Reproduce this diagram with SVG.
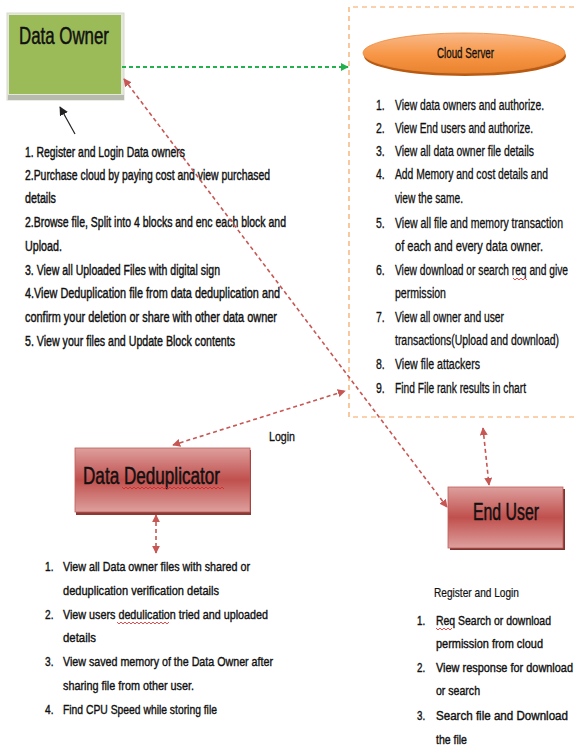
<svg xmlns="http://www.w3.org/2000/svg" width="574" height="747" viewBox="0 0 574 747">
<style>
.t{font-family:"Liberation Sans",Arial,sans-serif;fill:#111;stroke:#111;stroke-width:0.3;}
.l{font-size:15.5px;stroke-width:0.45;}
.c{font-size:14px;}
.d{font-size:13.5px;stroke-width:0.4;}
.e{font-size:13px;stroke-width:0.4;}
.h{font-size:23px;stroke-width:0.5;}
.red{fill:none;stroke:#C65754;stroke-width:1.6;stroke-dasharray:4 3;}
.sq{fill:none;stroke:#E02020;stroke-width:0.8;}
</style>
<defs>
<marker id="ar" viewBox="0 0 10 10" refX="9" refY="5" markerWidth="8" markerHeight="8" markerUnits="userSpaceOnUse" orient="auto-start-reverse"><path d="M0,0 L10,5 L0,10 z" fill="#C65754"/></marker>
<marker id="ag" viewBox="0 0 10 10" refX="9" refY="5" markerWidth="8" markerHeight="8" markerUnits="userSpaceOnUse" orient="auto"><path d="M0,0 L10,5 L0,10 z" fill="#22B14C"/></marker>
<marker id="ab" viewBox="0 0 10 10" refX="9" refY="5" markerWidth="9" markerHeight="9" markerUnits="userSpaceOnUse" orient="auto"><path d="M0,0 L10,5 L0,10 z" fill="#222"/></marker>
<linearGradient id="rg" x1="0" y1="0" x2="0" y2="1">
<stop offset="0" stop-color="#DDA09E"/><stop offset="0.5" stop-color="#C0504D"/><stop offset="1" stop-color="#DDA09E"/>
</linearGradient>
<linearGradient id="og" x1="0" y1="0" x2="0" y2="1">
<stop offset="0" stop-color="#F9B98A"/><stop offset="0.55" stop-color="#F79646"/><stop offset="1" stop-color="#E9832F"/>
</linearGradient>
</defs>

<g id="cloud-server">
<path d="M574,7 H349 V417 H574" fill="none" stroke="#F7A35C" stroke-width="1.2" stroke-dasharray="5 4"/>
<ellipse cx="465" cy="56" rx="101" ry="20" fill="#B85A12"/>
<ellipse cx="464" cy="53" rx="101" ry="20" fill="url(#og)" stroke="#E98A3C" stroke-width="0.8"/>
<text class="t" transform="translate(437,0) scale(0.75,1)" x="0" y="58" font-size="14" stroke-width="0.2" textLength="76" lengthAdjust="spacingAndGlyphs">Cloud Server</text>
<g class="t c" transform="translate(376,0) scale(0.75,1)">
<text x="0" y="110">1.</text><text x="25.33" y="110" textLength="198.7" lengthAdjust="spacingAndGlyphs">View data owners and authorize.</text>
<text x="0" y="133">2.</text><text x="25.33" y="133" textLength="184" lengthAdjust="spacingAndGlyphs">View End users and authorize.</text>
<text x="0" y="156">3.</text><text x="25.33" y="156" textLength="185.3" lengthAdjust="spacingAndGlyphs">View all data owner file details</text>
<text x="0" y="179">4.</text><text x="25.33" y="179" textLength="204" lengthAdjust="spacingAndGlyphs">Add Memory and cost details and</text>
<text x="25.33" y="203" textLength="90.7" lengthAdjust="spacingAndGlyphs">view the same.</text>
<text x="0" y="228">5.</text><text x="25.33" y="228" textLength="224" lengthAdjust="spacingAndGlyphs">View all file and memory transaction</text>
<text x="25.33" y="251" textLength="197.3" lengthAdjust="spacingAndGlyphs">of each and every data owner.</text>
<text x="0" y="275">6.</text><text x="25.33" y="275" textLength="230.7" lengthAdjust="spacingAndGlyphs">View download or search req and give</text>
<text x="25.33" y="298" textLength="68" lengthAdjust="spacingAndGlyphs">permission</text>
<text x="0" y="322">7.</text><text x="25.33" y="322" textLength="145.3" lengthAdjust="spacingAndGlyphs">View all owner and user</text>
<text x="25.33" y="345" textLength="218.7" lengthAdjust="spacingAndGlyphs">transactions(Upload and download)</text>
<text x="0" y="369">8.</text><text x="25.33" y="369" textLength="113.3" lengthAdjust="spacingAndGlyphs">View file attackers</text>
<text x="0" y="393">9.</text><text x="25.33" y="393" textLength="174.7" lengthAdjust="spacingAndGlyphs">Find File rank results in chart</text>
</g>
<path class="sq" d="M513,278 l2,2 l2,-2 l2,2 l2,-2 l2,2 l2,-2 l2,2"/>
</g>

<g id="data-owner">
<rect x="7" y="13" width="117" height="87" fill="#E4E8DC" stroke="#D5D9CC" stroke-width="1"/>
<rect x="8" y="95" width="116" height="5" fill="#B7BBAE"/>
<rect x="9" y="15" width="112" height="79" fill="#9BBB59"/>
<text class="t h" transform="translate(19,0) scale(0.75,1)" x="0" y="44" textLength="120" lengthAdjust="spacingAndGlyphs">Data Owner</text>
<g class="t l" transform="translate(25,0) scale(0.75,1)">
<text x="0" y="157" textLength="213.3" lengthAdjust="spacingAndGlyphs">1. Register and Login Data owners</text>
<text x="0" y="180" textLength="326.7" lengthAdjust="spacingAndGlyphs">2.Purchase cloud by paying cost and view purchased</text>
<text x="0" y="203" textLength="41.3" lengthAdjust="spacingAndGlyphs">details</text>
<text x="0" y="227" textLength="348" lengthAdjust="spacingAndGlyphs">2.Browse file, Split into 4 blocks and enc each block and</text>
<text x="0" y="251" textLength="49.3" lengthAdjust="spacingAndGlyphs">Upload.</text>
<text x="0" y="275" textLength="260" lengthAdjust="spacingAndGlyphs">3. View all Uploaded Files with digital sign</text>
<text x="0" y="298" textLength="340" lengthAdjust="spacingAndGlyphs">4.View Deduplication file from data deduplication and</text>
<text x="0" y="322" textLength="336" lengthAdjust="spacingAndGlyphs">confirm your deletion or share with other data owner</text>
<text x="0" y="346" textLength="280" lengthAdjust="spacingAndGlyphs">5. View your files and Update Block contents</text>
</g>
</g>

<g id="data-deduplicator">
<rect x="76" y="450" width="175" height="65" fill="#8C3835"/>
<rect x="75" y="448" width="175" height="64" fill="url(#rg)" stroke="#BE5E5B" stroke-width="0.8"/>
<text class="t h" transform="translate(83,0) scale(0.75,1)" x="0" y="484" textLength="182.7" lengthAdjust="spacingAndGlyphs">Data Deduplicator</text>
<path class="sq" d="M122,487 l2,2 l2,-2 l2,2 l2,-2 l2,2 l2,-2 l2,2 l2,-2 l2,2 l2,-2 l2,2 l2,-2 l2,2 l2,-2 l2,2 l2,-2 l2,2 l2,-2 l2,2 l2,-2 l2,2 l2,-2 l2,2 l2,-2 l2,2 l2,-2 l2,2 l2,-2 l2,2 l2,-2 l2,2 l2,-2 l2,2 l2,-2 l2,2 l2,-2 l2,2 l2,-2 l2,2 l2,-2 l2,2 l2,-2 l2,2 l2,-2 l2,2 l2,-2 l2,2 l2,-2 l2,2 l2,-2 l2,2"/>
<g class="t d" transform="translate(45,0) scale(0.75,1)">
<text x="0" y="571">1.</text><text x="24" y="571" textLength="249.3" lengthAdjust="spacingAndGlyphs">View all  Data owner files with shared or</text>
<text x="24" y="595" textLength="208" lengthAdjust="spacingAndGlyphs">deduplication verification details</text>
<text x="0" y="619">2.</text><text x="24" y="619" textLength="273.3" lengthAdjust="spacingAndGlyphs">View users dedulication tried and uploaded</text>
<text x="24" y="642" textLength="44" lengthAdjust="spacingAndGlyphs">details</text>
<text x="0" y="666">3.</text><text x="24" y="666" textLength="280" lengthAdjust="spacingAndGlyphs">View saved memory of the Data Owner after</text>
<text x="24" y="690" textLength="174.7" lengthAdjust="spacingAndGlyphs">sharing file from other user.</text>
<text x="0" y="714">4.</text><text x="24" y="714" textLength="205.3" lengthAdjust="spacingAndGlyphs">Find CPU Speed while storing file</text>
</g>
<path class="sq" d="M117,622 l2,2 l2,-2 l2,2 l2,-2 l2,2 l2,-2 l2,2 l2,-2 l2,2 l2,-2 l2,2 l2,-2 l2,2 l2,-2 l2,2 l2,-2 l2,2 l2,-2 l2,2 l2,-2 l2,2 l2,-2 l2,2 l2,-2 l2,2 l2,-2"/>
</g>

<g id="end-user">
<rect x="450" y="489" width="115" height="61" fill="#7F3330"/>
<rect x="448" y="487" width="115" height="61" fill="url(#rg)" stroke="#BE5E5B" stroke-width="0.8"/>
<text class="t h" transform="translate(473,0) scale(0.75,1)" x="0" y="520" textLength="88" lengthAdjust="spacingAndGlyphs">End User</text>
<g class="t e" transform="translate(417,0) scale(0.75,1)">
<text x="22.67" y="597" font-size="12" stroke-width="0.2" textLength="113.3" lengthAdjust="spacingAndGlyphs">Register and Login</text>
<text x="0" y="625">1.</text><text x="25.33" y="625" textLength="153.3" lengthAdjust="spacingAndGlyphs">Req Search or download</text>
<text x="25.33" y="648" textLength="142.7" lengthAdjust="spacingAndGlyphs">permission from cloud</text>
<text x="0" y="672">2.</text><text x="25.33" y="672" textLength="182.7" lengthAdjust="spacingAndGlyphs">View response for download</text>
<text x="25.33" y="695" textLength="58.7" lengthAdjust="spacingAndGlyphs">or search</text>
<text x="0" y="720">3.</text><text x="25.33" y="720" textLength="176" lengthAdjust="spacingAndGlyphs">Search file  and Download</text>
<text x="25.33" y="744" textLength="41.3" lengthAdjust="spacingAndGlyphs">the file</text>
</g>
<path class="sq" d="M436,628 l2,2 l2,-2 l2,2 l2,-2 l2,2 l2,-2 l2,2 l2,-2"/>
</g>

<g id="connectors">
<line x1="122" y1="67" x2="348" y2="67" fill="none" stroke="#22B14C" stroke-width="1.8" stroke-dasharray="4 3" marker-end="url(#ag)"/>
<line x1="75" y1="134" x2="60" y2="107" fill="none" stroke="#222" stroke-width="1.2" marker-end="url(#ab)"/>
<line class="red" x1="124" y1="79" x2="447" y2="507" marker-start="url(#ar)" marker-end="url(#ar)"/>
<line class="red" x1="173" y1="445" x2="345" y2="391" marker-start="url(#ar)" marker-end="url(#ar)"/>
<line class="red" x1="156" y1="515" x2="156" y2="553" marker-start="url(#ar)" marker-end="url(#ar)"/>
<line class="red" x1="483" y1="428" x2="489" y2="485" marker-start="url(#ar)" marker-end="url(#ar)"/>
<text class="t" transform="translate(269,0) scale(0.75,1)" x="0" y="441" font-size="13" stroke-width="0.3" textLength="34.7" lengthAdjust="spacingAndGlyphs">Login</text>
</g>
</svg>
